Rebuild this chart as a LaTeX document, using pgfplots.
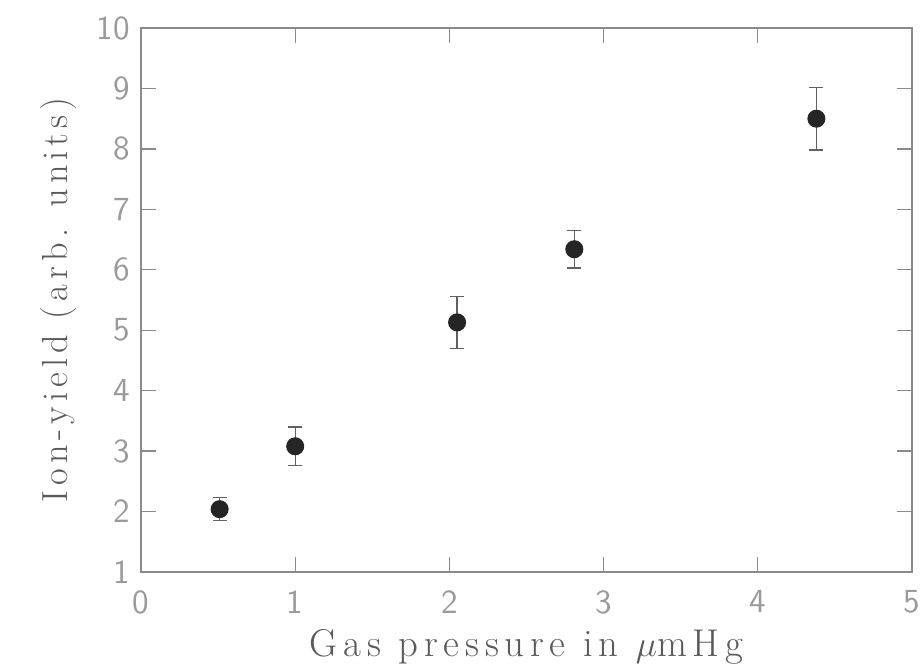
\documentclass[border=0pt]{standalone}
\usepackage{fontspec}
\usepackage{pgfplots}
\pgfplotsset{compat=1.18}
\definecolor{axgray}{HTML}{8A8A8A}
\definecolor{tickgray}{HTML}{9A9A9A}
\definecolor{labgray}{HTML}{5A5A5A}
\definecolor{dotcol}{HTML}{252525}
\newfontfamily\spacedfont[LetterSpace=14]{Latin Modern Roman}
\newfontfamily\spacedfontx[LetterSpace=15]{Latin Modern Roman}
\begin{document}
\begin{tikzpicture}
\begin{axis}[
  name=ax,
  scale only axis,
  width=308.4pt, height=217.6pt,
  xmin=0, xmax=5, ymin=1, ymax=10,
  xtick={0,1,2,3,4,5}, ytick={1,2,...,10},
  minor tick num=0,
  tick align=inside,
  major tick length=6pt,
  axis line style={axgray, line width=0.5pt},
  every tick/.style={axgray, line width=0.5pt},
  /pgf/number format/assume math mode=true,
  ticklabel style={font=\sffamily\fontsize{13.5}{15}\selectfont, text=tickgray},
  xticklabel style={yshift=-4pt},
  yticklabel style={xshift=-1pt},
  xlabel={Gas pressure in $\mu$mHg},
  ylabel={Ion-yield (arb. units)},
  ylabel style={font=\spacedfont\fontsize{14.5}{16}\selectfont, text=labgray, yshift=1pt},
  xlabel style={font=\spacedfontx\fontsize{15.5}{17}\selectfont, text=labgray, yshift=1pt},
]
\addplot[
  only marks, mark=*, mark size=3.4pt,
  mark options={fill=dotcol, draw=dotcol},
  error bars/.cd, y dir=both, y explicit,
  error bar style={axgray!70!black, line width=0.5pt},
  error mark options={rotate=90, mark size=2.8pt, axgray!70!black, line width=0.5pt},
] table[x=x, y=y, y error=e] {
x y e
0.51 2.04 0.19
1.00 3.08 0.32
2.05 5.13 0.43
2.81 6.34 0.31
4.38 8.50 0.52
};
\end{axis}
\pgfresetboundingbox
\path (ax.south west) ++(-56.4pt,-36.8pt) coordinate (bbA);
\path (ax.north east) ++(3.2pt,11.2pt) coordinate (bbB);
\path[use as bounding box] (bbA) rectangle (bbB);
\end{tikzpicture}
\end{document}
